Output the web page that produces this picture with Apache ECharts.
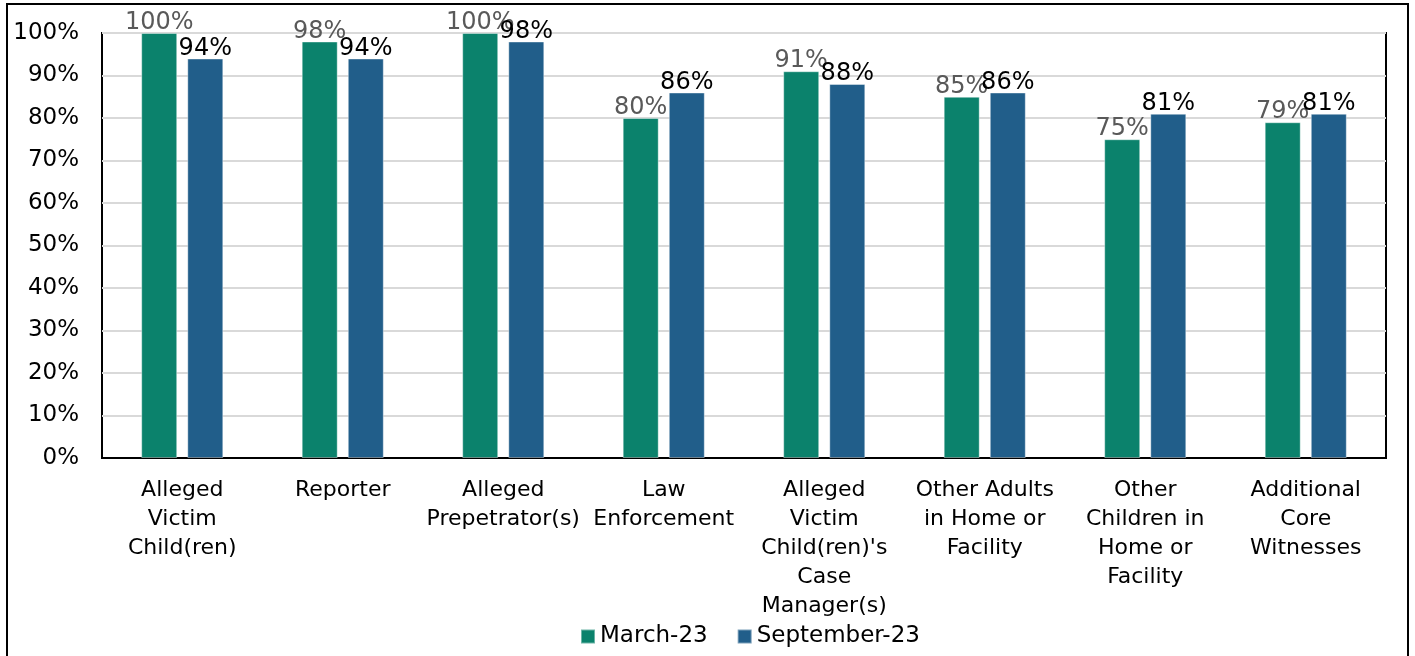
<!DOCTYPE html>
<html>
<head>
<meta charset="utf-8">
<script src="https://cdn.jsdelivr.net/npm/echarts@6/dist/echarts.min.js"></script>
<style>
  html, body { margin: 0; padding: 0; background: #fff; }
  #chart { width: 1415px; height: 656px; }
</style>
</head>
<body>
<div id="chart"></div>
<script>
// categories and values
const categories = [
  'Alleged\nVictim\nChild(ren)',
  'Reporter',
  'Alleged\nPrepetrator(s)',
  'Law\nEnforcement',
  'Alleged\nVictim\nChild(ren)\'s\nCase\nManager(s)',
  'Other Adults\nin Home or\nFacility',
  'Other\nChildren in\nHome or\nFacility',
  'Additional\nCore\nWitnesses'
]
const march23 = [100, 98, 100, 80, 91, 85, 75, 79]
const september23 = [94, 94, 98, 86, 88, 86, 81, 81]

const fontFamily = '"DejaVu Sans", sans-serif'

let chart = echarts.init(document.getElementById('chart'))
let options = {
  animation: false,
  textStyle: { fontFamily: fontFamily },
  graphic: [
    {
      // outer frame of the picture
      type: 'rect',
      shape: { x: 7, y: 4, width: 1401, height: 700 },
      style: { fill: 'none', stroke: '#000', lineWidth: 2 },
      silent: true
    }
  ],
  grid: {
    left: 102,
    right: 29,
    top: 33,
    bottom: 198,
    show: true,
    borderColor: '#000',
    borderWidth: 2
  },
  legend: {
    bottom: 3,
    left: 575,
    itemWidth: 14,
    itemHeight: 14,
    itemGap: 29,
    icon: 'rect',
    textStyle: { fontSize: 23, color: '#000', fontFamily: fontFamily },
    data: ['March-23', 'September-23']
  },
  xAxis: {
    type: 'category',
    data: categories,
    axisTick: { show: false },
    axisLine: { lineStyle: { color: '#000', width: 2 } },
    axisLabel: {
      interval: 0,
      fontSize: 22,
      lineHeight: 29,
      color: '#000',
      margin: 18
    }
  },
  yAxis: {
    type: 'value',
    min: 0,
    max: 100,
    interval: 10,
    axisLine: { show: false },
    axisTick: { show: false },
    splitLine: { lineStyle: { color: '#d9d9d9', width: 2 } },
    axisLabel: {
      formatter: '{value}%',
      fontSize: 23,
      color: '#000',
      margin: 23
    }
  },
  series: [
    {
      name: 'March-23',
      type: 'bar',
      data: march23,
      barWidth: 36,
      barGap: '28%',
      itemStyle: { color: '#0b826c', borderColor: 'rgba(255,255,255,0.4)', borderWidth: 1 },
      label: {
        show: true,
        position: 'top',
        distance: -2,
        formatter: '{c}%',
        fontSize: 24,
        color: '#595959'
      }
    },
    {
      name: 'September-23',
      type: 'bar',
      data: september23,
      barWidth: 36,
      itemStyle: { color: '#215e8a', borderColor: 'rgba(255,255,255,0.4)', borderWidth: 1 },
      label: {
        show: true,
        position: 'top',
        distance: -2,
        formatter: '{c}%',
        fontSize: 24,
        color: '#000'
      }
    }
  ]
}
options && chart.setOption(options)
</script>
</body>
</html>
